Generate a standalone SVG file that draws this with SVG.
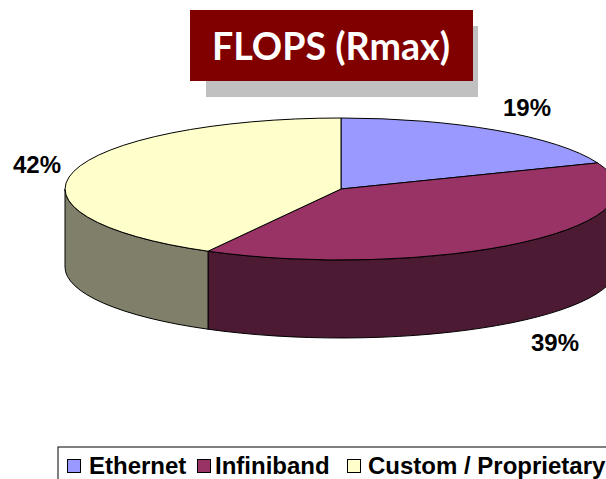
<svg xmlns="http://www.w3.org/2000/svg" width="606" height="479" viewBox="0 0 606 479">
  <style>
    .edge { stroke: #000000; stroke-width: 1; stroke-linejoin: round; }
    .pct { font-family: "Liberation Sans", Arial, sans-serif; font-weight: bold; font-size: 24px; fill: #000000; }
    .leg { font-family: "Liberation Sans", Arial, sans-serif; font-weight: bold; font-size: 24px; fill: #000000; }
    .title { font-family: Lato, "Open Sans", sans-serif; font-weight: bold; font-size: 38px; fill: #FFFFFF; }
  </style>
  <rect width="606" height="479" fill="#FFFFFF"/>

  <!-- Title banner with drop shadow -->
  <g id="title">
    <rect x="206" y="26" width="272" height="71" fill="#C0C0C0"/>
    <rect x="190" y="10" width="283" height="71" fill="#800000"/>
    <text class="title" x="212" y="60" textLength="238" lengthAdjust="spacingAndGlyphs">FLOPS (Rmax)</text>
  </g>

  <!-- 3D pie: side walls first, then top faces -->
  <g id="pie-sides">
    <path id="infiniband-side" class="edge" fill="#4D1A33"
          d="M617,189 A276,71 0 0,1 208,251.2 L208,329.2 A276,71 0 0,0 617,267 Z"/>
    <path id="custom-side" class="edge" fill="#80806A"
          d="M208,251.2 A276,71 0 0,1 65,189 L65,267 A276,71 0 0,0 208,329.2 Z"/>
  </g>
  <g id="pie-tops">
    <path id="ethernet-top" class="edge" fill="#9999FF"
          d="M341,189 L341,118 A276,71 0 0,1 597.6,162.9 Z"/>
    <path id="infiniband-top" class="edge" fill="#993366"
          d="M341,189 L597.6,162.9 A276,71 0 0,1 208,251.2 Z"/>
    <path id="custom-top" class="edge" fill="#FFFFCC"
          d="M341,189 L208,251.2 A276,71 0 0,1 341,118 Z"/>
  </g>

  <!-- Percentage labels -->
  <g id="labels">
    <text class="pct" x="503" y="116">19%</text>
    <text class="pct" x="13" y="173">42%</text>
    <text class="pct" x="531" y="351">39%</text>
  </g>

  <!-- Legend -->
  <g id="legend">
    <rect x="58" y="447" width="570" height="45" fill="#FFFFFF" stroke="#000000" stroke-width="1"/>
    <rect x="67.5" y="459.5" width="13" height="13" fill="#9999FF" stroke="#000000" stroke-width="1"/>
    <text class="leg" x="89" y="474">Ethernet</text>
    <rect x="197.5" y="459.5" width="13" height="13" fill="#993366" stroke="#000000" stroke-width="1"/>
    <text class="leg" x="215" y="474">Infiniband</text>
    <rect x="347.5" y="459.5" width="13" height="13" fill="#FFFFCC" stroke="#000000" stroke-width="1"/>
    <text class="leg" x="368" y="474">Custom / Proprietary</text>
  </g>
</svg>
